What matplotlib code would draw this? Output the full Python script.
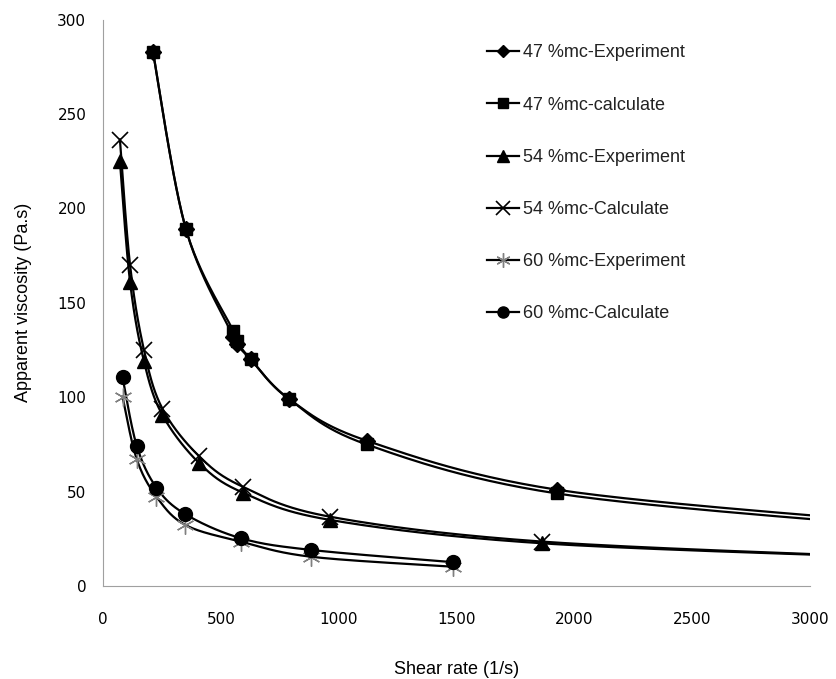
import numpy as np
import matplotlib
matplotlib.use("Agg")
import matplotlib.pyplot as plt

# shear rate (1/s) and apparent viscosity (Pa.s)
x47 = [212, 352, 553, 567, 627, 790, 1118, 1926, 3400]
y47_exp = [283, 189, 132, 128, 120, 99, 77, 51, 33.2]
y47_calc = [283, 189, 135, 130, 120, 99, 75, 49, 31.2]

x54 = [72, 115, 174, 252, 409, 593, 963, 1864, 3400]
y54_exp = [225, 161, 119, 90.6, 65, 49.5, 35, 22.6, 14.9]
y54_calc = [236.5, 170, 125, 94, 68.6, 52.6, 36.7, 23.5, 15.0]

x60 = [83, 143, 227, 350, 585, 882, 1486]
y60_exp = [100.3, 67.3, 47.3, 32.3, 23.5, 15.5, 10.2]
y60_calc = [110.6, 74.4, 52.1, 38, 25.3, 19.1, 12.6]

labels = ["47 %mc-Experiment", "47 %mc-calculate", "54 %mc-Experiment",
          "54 %mc-Calculate", "60 %mc-Experiment", "60 %mc-Calculate"]


def smooth(x, y, n=30):
    """Excel-style smoothed line (Catmull-Rom bezier)."""
    p = np.column_stack([x, y]).astype(float)
    p = np.vstack([p[0], p, p[-1]])
    out = []
    t = np.linspace(0, 1, n)[:, None]
    for i in range(1, len(p) - 2):
        p0, p1, p2, p3 = p[i - 1], p[i], p[i + 1], p[i + 2]
        c1 = p1 + (p2 - p0) / 6
        c2 = p2 - (p3 - p1) / 6
        seg = ((1 - t) ** 3) * p1 + 3 * ((1 - t) ** 2) * t * c1 \
            + 3 * (1 - t) * t ** 2 * c2 + t ** 3 * p2
        out.append(seg)
    s = np.vstack(out)
    return s[:, 0], s[:, 1]


fig = plt.figure(figsize=(8.37, 6.79), dpi=100)
ax = fig.add_axes([0.123, 0.137, 0.845, 0.834])

series = [
    (x47, y47_exp, dict(marker="D", markersize=8, color="black", mfc="black", mec="black")),
    (x47, y47_calc, dict(marker="s", markersize=9, color="black", mfc="black", mec="black")),
    (x54, y54_exp, dict(marker="^", markersize=10, color="black", mfc="black", mec="black")),
    (x54, y54_calc, dict(marker="x", markersize=12, color="black", mec="black", mew=1.2)),
    (x60, y60_exp, dict(marker=(6, 2, 0), markersize=13, color="black", mec="#808080", mew=1.0)),
    (x60, y60_calc, dict(marker="o", markersize=10, color="black", mfc="black", mec="black")),
]

handles = []
for (xs, ys, style), lab in zip(series, labels):
    sx, sy = smooth(xs, ys)
    ax.plot(sx, sy, color="black", lw=1.6, zorder=2)
    ax.plot(xs, ys, ls="none", zorder=3, **style)
    h, = ax.plot([], [], lw=1.6, label=lab, **{k: v for k, v in style.items() if k != "markersize"},
                 markersize=style["markersize"] * 0.8)
    handles.append(h)

ax.set_xlim(0, 3000)
ax.set_ylim(0, 300)
ax.set_xticks(np.arange(0, 3001, 500))
ax.set_yticks(np.arange(0, 301, 50))
for s in ["top", "right"]:
    ax.spines[s].set_visible(False)
for s in ["left", "bottom"]:
    ax.spines[s].set_color("#a0a0a0")
    ax.spines[s].set_linewidth(0.8)
ax.tick_params(length=0, labelsize=11)
ax.tick_params(axis="x", pad=19)
ax.tick_params(axis="y", pad=12)

ax.set_xlabel("Shear rate (1/s)", fontsize=13, family="Liberation Sans", labelpad=24)
ax.set_ylabel("Apparent viscosity (Pa.s)", fontsize=13, family="Liberation Sans", labelpad=18)

leg = ax.legend(handles=handles, loc="upper left", bbox_to_anchor=(0.52, 0.985),
                frameon=False, prop={"family": "Liberation Sans", "size": 13},
                labelspacing=1.95, handlelength=1.8, handletextpad=0.2)
for t in leg.get_texts():
    t.set_color("#222222")

fig.savefig("out.png", dpi=100)
